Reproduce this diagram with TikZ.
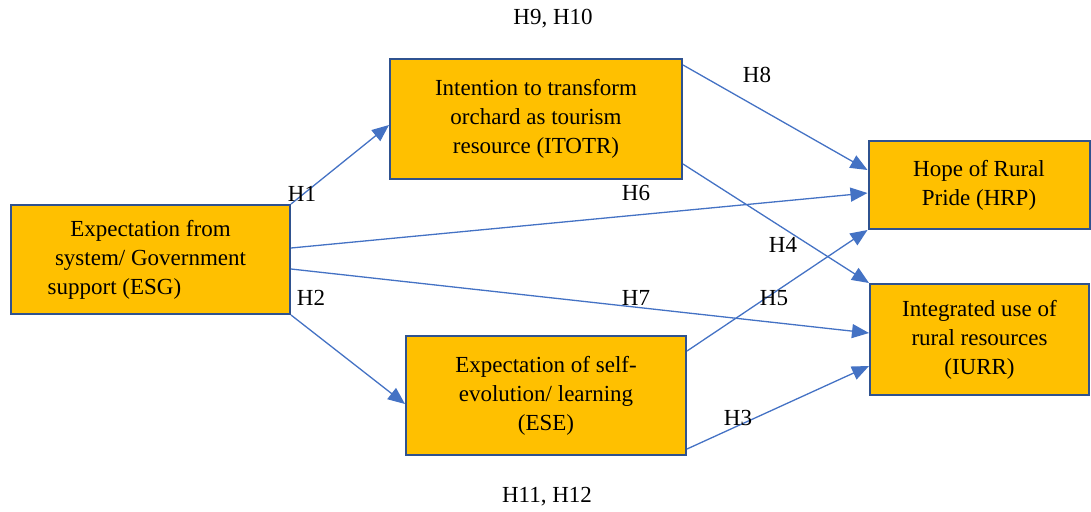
\documentclass[tikz,border=0pt]{standalone}
\usepackage{fontspec}
\setmainfont{Liberation Serif}
\usetikzlibrary{arrows.meta,positioning}

\definecolor{boxfill}{HTML}{FFC000}
\definecolor{boxline}{HTML}{2F528F}
\definecolor{linkblue}{HTML}{4472C4}

\tikzset{
  construct/.style={draw=boxline, line width=2pt, fill=boxfill, align=center,
    inner sep=0pt, font=\fontsize{23}{29}\selectfont},
  link/.style={draw=linkblue, line width=1.3pt,
    -{Triangle[length=17pt,width=14pt]}},
  hyp/.style={inner sep=0pt, font=\fontsize{23}{29}\selectfont}
}

\begin{document}
\begin{tikzpicture}[x=1pt,y=-1pt]
\useasboundingbox (0,0) rectangle (1091,511);

% constructs
\node[construct, minimum width=279pt, minimum height=109pt] (esg) at (150.5,259.5)
  {Expectation from\\system/ Government\\support (ESG)\hspace*{72pt}};
\node[construct, minimum width=292pt, minimum height=120pt] (itotr) at (536,119)
  {Intention to transform\\orchard as tourism\\resource (ITOTR)};
\node[construct, minimum width=280pt, minimum height=119pt] (ese) at (546,395.5)
  {Expectation of self-\\evolution/ learning\\(ESE)};
\node[construct, minimum width=221pt, minimum height=88pt] (hrp) at (979,185)
  {Hope of Rural\\Pride (HRP)};
\node[construct, minimum width=219pt, minimum height=111pt] (iurr) at (979.5,339.5)
  {Integrated use of\\rural resources\\(IURR)};

% hypothesised paths
\draw[link] (esg.north east) -- ([yshift=-6pt]itotr.west);
\draw[link] (esg.south east) -- ([yshift=-8.5pt]ese.west);
\draw[link] ([yshift=11.5pt]esg.east) -- ([yshift=-8pt]hrp.west);
\draw[link] ([yshift=-9.5pt]esg.east) -- ([yshift=6.5pt]iurr.west);
\draw[link] ([yshift=-7pt]itotr.north east) -- ([yshift=15pt]hrp.west);
\draw[link] ([yshift=16pt]itotr.south east) -- (iurr.north west);
\draw[link] ([yshift=-16pt]ese.north east) -- (hrp.south west);
\draw[link] ([yshift=7pt]ese.south east) -- ([yshift=-26.5pt]iurr.west);

% hypothesis labels
\node[hyp] (h910) at (553,19) {H9, H10};
\node[hyp] (h1112) at (547,497) {H11, H12};
\node[hyp] (h1) at (302,194) {H1};
\node[hyp] (h2) at (311,298) {H2};
\node[hyp] (h3) at (738,418) {H3};
\node[hyp] (h4) at (783,245) {H4};
\node[hyp] (h5) at (774,298) {H5};
\node[hyp] (h6) at (636,193) {H6};
\node[hyp] (h7) at (636,298) {H7};
\node[hyp] (h8) at (757,75) {H8};
\end{tikzpicture}
\end{document}
